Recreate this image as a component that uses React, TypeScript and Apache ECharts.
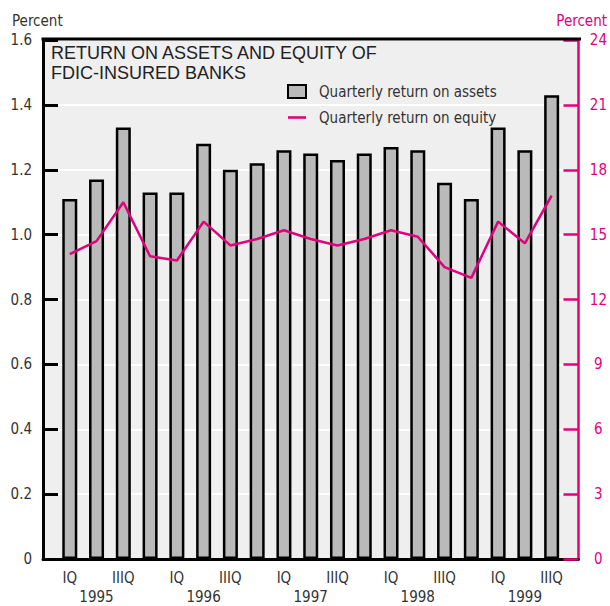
import React, { useEffect, useRef } from "react";
import * as echarts from "echarts";

const years = ["1995", "1996", "1997", "1998", "1999"];
const quarters = ["IQ", "IIQ", "IIIQ", "IVQ"];
const shownQuarterLabels = ["IQ", "", "IIIQ", ""];
const returnOnAssets = [1.11, 1.17, 1.33, 1.13, 1.13, 1.28, 1.2, 1.22, 1.26, 1.25, 1.23, 1.25, 1.27, 1.26, 1.16, 1.11, 1.33, 1.26, 1.43];
const returnOnEquity = [14.1, 14.7, 16.5, 14.0, 13.8, 15.6, 14.5, 14.8, 15.2, 14.8, 14.5, 14.8, 15.2, 14.9, 13.5, 13.0, 15.6, 14.6, 16.8];
const leftTicks = { min: 0, max: 1.6, interval: 0.2 };
const rightTicks = { min: 0, max: 24, interval: 3 };
const titleText = "RETURN ON ASSETS AND EQUITY OF\nFDIC-INSURED BANKS";
const seriesNames = ["Quarterly return on assets", "Quarterly return on equity"];

const PINK = "#e3007b";
const NARROW = "'DejaVu Sans Condensed', 'Liberation Sans Narrow', sans-serif";
const TEXT = "#333333";
const FS = 15;

export default function App() {
  const ref = useRef<HTMLDivElement>(null);
  useEffect(() => {
    document.body.style.margin = "0";
    if (!ref.current) return;
    const chart = echarts.init(ref.current, null, { renderer: "svg" });

    const categories: string[] = [];
    const tickLabels: string[] = [];
    years.forEach((y) => {
      quarters.forEach((q, qi) => {
        if (categories.length < returnOnAssets.length) {
          categories.push(y + " " + q);
          tickLabels.push(qi === 1 ? "\n" + y : shownQuarterLabels[qi]);
        }
      });
    });
    const axisCats = ["", ...categories, ""];
    const axisLabels = ["", ...tickLabels, ""];
    const barData = [null, ...returnOnAssets, null];
    const lineData = [null, ...returnOnEquity, null];

    const gridLeft = 43;
    const gridRight = 29;
    const gridTop = 40;
    const gridBottom = 44;

    chart.setOption({
      animation: false,
      backgroundColor: "#ffffff",
      title: {
        text: titleText,
        left: 51,
        top: 43,
        padding: 0,
        textStyle: {
          fontFamily: "'Liberation Sans', Arial, sans-serif",
          fontSize: 18,
          fontWeight: "normal",
          color: "#222222",
          lineHeight: 20,
        },
      },
      legend: {
        orient: "vertical",
        left: 287,
        top: 84,
        padding: 0,
        itemWidth: 18,
        itemHeight: 13,
        itemGap: 11,
        textStyle: {
          fontFamily: NARROW,
          fontSize: FS,
          color: TEXT,
          padding: [0, 0, 0, 8],
        },
        data: [
          { name: seriesNames[0], icon: "rect" },
          { name: seriesNames[1], icon: "path://M0,0 M0,5.2 L18,5.2 L18,7.8 L0,7.8 Z M18,13" },
        ],
      },
      graphic: [
        {
          type: "text",
          left: 12,
          top: 13,
          style: { text: "Percent", font: `${FS}px ${NARROW}`, fill: TEXT },
        },
        {
          type: "text",
          right: 3,
          top: 13,
          style: { text: "Percent", font: `${FS}px ${NARROW}`, fill: PINK },
        },
        {
          type: "line",
          shape: { x1: gridLeft - 1.5, y1: gridTop - 1, x2: 610 - gridRight, y2: gridTop - 1 },
          style: { stroke: "#000", lineWidth: 3 },
          z: 10,
        },
      ],
      grid: {
        left: gridLeft,
        right: gridRight,
        top: gridTop,
        bottom: gridBottom,
        show: true,
        backgroundColor: "#efefef",
        borderWidth: 0,
      },
      xAxis: {
        type: "category",
        data: axisCats,
        boundaryGap: false,
        axisLine: { show: true, lineStyle: { color: "#000", width: 3 } },
        axisTick: { show: false },
        splitLine: { show: false },
        axisLabel: {
          interval: 0,
          margin: 9,
          fontFamily: NARROW,
          fontSize: FS,
          lineHeight: 19,
          color: TEXT,
          formatter: (_v: string, i: number) => axisLabels[i],
        },
      },
      yAxis: [
        {
          type: "value",
          ...leftTicks,
          position: "left",
          axisLine: { show: true, lineStyle: { color: "#000", width: 3 } },
          axisTick: { show: true, inside: true, length: 15, lineStyle: { color: "#000", width: 3 } },
          splitLine: { show: true, lineStyle: { color: "#ffffff", width: 2 } },
          axisLabel: {
            margin: 11,
            fontFamily: NARROW,
            fontSize: FS,
            color: TEXT,
            formatter: (v: number) => (v === 0 ? "0" : v.toFixed(1)),
          },
        },
        {
          type: "value",
          ...rightTicks,
          position: "right",
          axisLine: { show: true, lineStyle: { color: PINK, width: 2.5 } },
          axisTick: { show: true, inside: true, length: 15, lineStyle: { color: PINK, width: 2.5 } },
          splitLine: { show: false },
          axisLabel: {
            margin: 20,
            align: "center",
            fontFamily: NARROW,
            fontSize: FS,
            color: PINK,
          },
        },
      ],
      series: [
        {
          name: seriesNames[0],
          type: "bar",
          data: barData,
          barWidth: 15,
          yAxisIndex: 0,
          itemStyle: { color: "#bababa", borderColor: "#000", borderWidth: 2.5 },
          z: 2,
        },
        {
          name: seriesNames[1],
          type: "line",
          data: lineData,
          yAxisIndex: 1,
          symbol: "none",
          lineStyle: { color: PINK, width: 2.5 },
          itemStyle: { color: PINK },
          z: 3,
        },
      ],
    });
    return () => chart.dispose();
  }, []);
  return <div ref={ref} style={{ width: 610, height: 606 }} />;
}
